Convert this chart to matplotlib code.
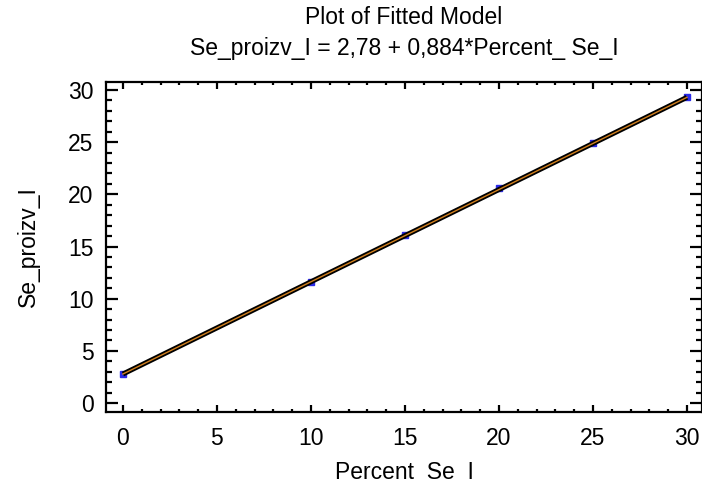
import numpy as np
import matplotlib
matplotlib.use("Agg")
import matplotlib.pyplot as plt
from matplotlib.ticker import MultipleLocator

plt.rcParams['font.family'] = ['Liberation Sans', 'DejaVu Sans']

# observed points
pct = [0, 10, 15, 20, 25, 30]
se_obs = [2.8, 11.6, 16.1, 20.6, 24.9, 29.3]

# fitted model
b0 = 2.78
b1 = 0.884
fit_x = [0, 30]
fit_y = [b0 + b1 * v for v in fit_x]

fs = 16.5

fig = plt.figure(figsize=(7.02, 4.88), dpi=100)
ax = fig.add_axes([106/702, 76/488, 596/702, 330/488])

ax.plot(pct, se_obs, ls='none', marker='s', ms=4.2, color='#2a2ae6', zorder=2)
ax.plot(fit_x, fit_y, color='black', lw=3.6, solid_capstyle='butt', zorder=3)
ax.plot(fit_x, fit_y, color='#d2801e', lw=1.0, zorder=4)

ax.set_xlim(-0.9, 30.8)
ax.set_ylim(-0.86, 30.77)
ax.xaxis.set_major_locator(MultipleLocator(5))
ax.xaxis.set_minor_locator(MultipleLocator(1))
ax.yaxis.set_major_locator(MultipleLocator(5))
ax.yaxis.set_minor_locator(MultipleLocator(1))

for s in ax.spines.values():
    s.set_linewidth(1.6)

ax.tick_params(axis='both', which='both', direction='in', top=True, right=True,
               labelsize=fs, width=1.6)
ax.tick_params(axis='y', which='major', length=8.5, pad=9)
ax.tick_params(axis='y', which='minor', length=4.3)
ax.tick_params(axis='x', which='major', length=5, pad=11)
ax.tick_params(axis='x', which='minor', length=2.2)

ax.set_xlabel('Percent  Se  I', fontsize=fs, labelpad=8)
ax.set_ylabel('Se_proizv_I', fontsize=fs, labelpad=20)

fig.text(404/702, 1 - 18/488, 'Plot of Fitted Model', ha='center', va='center', fontsize=fs)
fig.text(404/702, 1 - 48/488, 'Se_proizv_I = 2,78 + 0,884*Percent_ Se_I',
         ha='center', va='center', fontsize=fs)

fig.savefig('out.png', dpi=100)
